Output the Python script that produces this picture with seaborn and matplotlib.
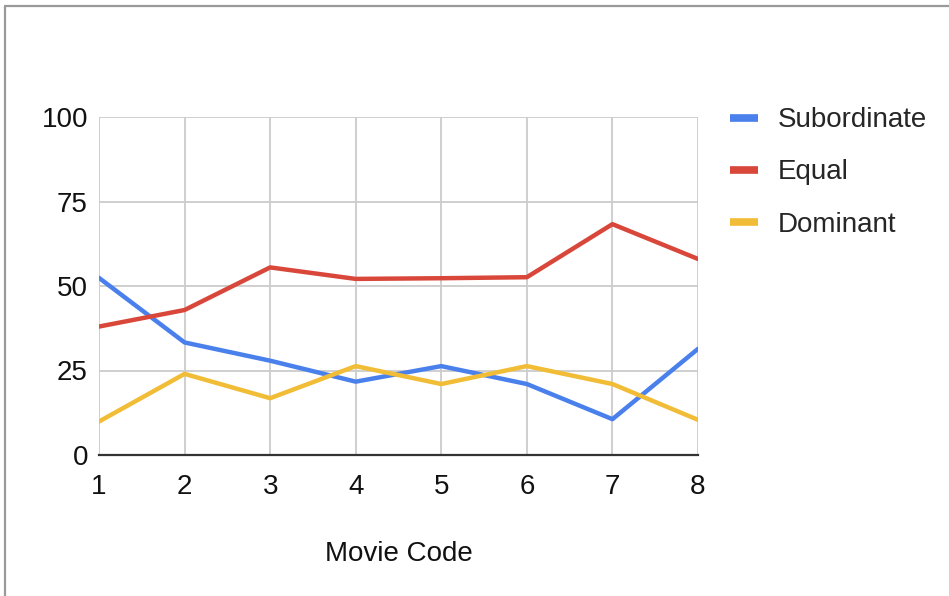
import matplotlib
matplotlib.use("Agg")
import matplotlib.pyplot as plt
from matplotlib.lines import Line2D
import seaborn as sns
import pandas as pd

movie_codes = [1, 2, 3, 4, 5, 6, 7, 8]
subordinate = [52.4, 33.3, 27.9, 21.7, 26.3, 21.0, 10.6, 31.4]
equal = [38.0, 42.9, 55.5, 52.1, 52.3, 52.6, 68.3, 58.0]
dominant = [9.9, 24.0, 16.8, 26.3, 21.0, 26.3, 21.0, 10.4]
series_names = ["Subordinate", "Equal", "Dominant"]
y_ticks = [0, 25, 50, 75, 100]

colors = {"Subordinate": "#4a80ec", "Equal": "#d8473a", "Dominant": "#f2bd36"}

df = pd.DataFrame({
    "Movie Code": movie_codes * 3,
    "value": subordinate + equal + dominant,
    "series": [s for s in series_names for _ in movie_codes],
})

sns.set_theme(style="white")
plt.rcParams["font.family"] = ["Liberation Sans", "DejaVu Sans"]

fig = plt.figure(figsize=(9.49, 5.96), dpi=100)
ax = fig.add_axes([99 / 949, 1 - 455 / 596, (698 - 99) / 949, (455 - 117) / 596])

sns.lineplot(data=df, x="Movie Code", y="value", hue="series", palette=colors,
             hue_order=series_names, linewidth=3.2, ax=ax, legend=False)

ax.set_xlim(1, 8)
ax.set_ylim(0, 100)
ax.set_xticks(movie_codes)
ax.set_yticks(y_ticks)
ax.grid(True, color="#cccccc", linewidth=1.3)
ax.set_axisbelow(True)
for side in ["top", "right", "left"]:
    ax.spines[side].set_visible(False)
ax.spines["bottom"].set_color("#333333")
ax.spines["bottom"].set_linewidth(1.6)
ax.tick_params(axis="both", length=0, labelsize=20, colors="#111111")
ax.tick_params(axis="x", pad=14)
ax.tick_params(axis="y", pad=8)
ax.set_ylabel("")
ax.set_xlabel("Movie Code", fontsize=20, color="#111111", labelpad=29)

handles = [Line2D([0], [0], color=colors[s], linewidth=5.5, solid_capstyle="butt")
           for s in series_names]
fig.legend(handles, series_names, loc="upper left",
           bbox_to_anchor=(722 / 949, 1 - 99 / 596), frameon=False,
           fontsize=20, handlelength=1.0, handletextpad=0.72, labelspacing=0.94,
           borderaxespad=0, borderpad=0.3)

# page frame
fig.add_artist(Line2D([5 / 949, 1], [1 - 6 / 596, 1 - 6 / 596], color="#9a9a9a", linewidth=1.6))
fig.add_artist(Line2D([5 / 949, 5 / 949], [0, 1 - 6 / 596], color="#9a9a9a", linewidth=1.6))

fig.savefig("out.png", dpi=100)
